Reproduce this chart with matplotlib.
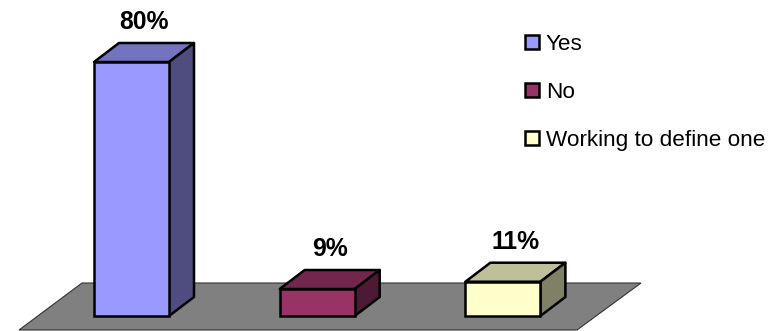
import matplotlib
matplotlib.use('Agg')
import matplotlib.pyplot as plt
from matplotlib.colors import to_rgb
from matplotlib.patches import Patch, Polygon

categories = ['Yes', 'No', 'Working to define one']
values = [80, 8.5, 10.8]
value_labels = ['80%', '9%', '11%']
colors = ['#9999FF', '#993366', '#FFFFCC']

plt.rcParams['font.family'] = ['Liberation Sans', 'DejaVu Sans']

W, H = 780, 331
BAR_STEP = 185.7   # px per category
PCT = 3.175        # px per percent
bar_w = 75 / BAR_STEP
dx = 25 / BAR_STEP
dy = 19 / PCT


def shade(color, k):
    return tuple(c * k for c in to_rgb(color))


fig = plt.figure(figsize=(W / 100, H / 100), dpi=100)
ax = fig.add_axes([0, 0, 1, 1])
ax.set_xlim(-131.5 / BAR_STEP, (W - 131.5) / BAR_STEP)
ax.set_ylim(-15 / PCT, 316 / PCT)
ax.axis('off')

# floor
floor_x = [-49.5 / BAR_STEP, 509.5 / BAR_STEP, 445.5 / BAR_STEP, -112.5 / BAR_STEP]
floor_y = [33 / PCT, 33 / PCT, -14 / PCT, -14 / PCT]
ax.add_patch(Polygon(list(zip(floor_x, floor_y)), closed=True, facecolor='#808080',
                     edgecolor='#333333', linewidth=0.8, zorder=1))

ax.bar(range(len(values)), values, width=bar_w, color=colors, edgecolor='black',
       linewidth=1.8, zorder=3)

for i, v in enumerate(values):
    l = i - bar_w / 2
    r = i + bar_w / 2
    top = [(l, v), (r, v), (r + dx, v + dy), (l + dx, v + dy)]
    side = [(r, 0), (r + dx, dy), (r + dx, v + dy), (r, v)]
    ax.add_patch(Polygon(top, closed=True, facecolor=shade(colors[i], 0.75),
                         edgecolor='black', linewidth=1.8, joinstyle='round', zorder=2))
    ax.add_patch(Polygon(side, closed=True, facecolor=shade(colors[i], 0.5),
                         edgecolor='black', linewidth=1.8, joinstyle='round', zorder=2))
    ax.annotate(value_labels[i], (i + dx / 2, v + dy), xytext=(0, 6.4), textcoords='offset points',
                ha='center', va='bottom', fontsize=17.8, fontweight='bold', color='black')

handles = [Patch(facecolor=c, edgecolor='black', linewidth=1.8, label=n)
           for c, n in zip(colors, categories)]
ax.legend(handles=handles, loc='upper left', bbox_to_anchor=(525 / W, 1 - 34 / H),
          frameon=False, fontsize=16.2, borderpad=0, borderaxespad=0,
          handlelength=0.62, handleheight=0.62, handletextpad=0.3, labelspacing=1.195)

fig.savefig('out.png', dpi=100)
